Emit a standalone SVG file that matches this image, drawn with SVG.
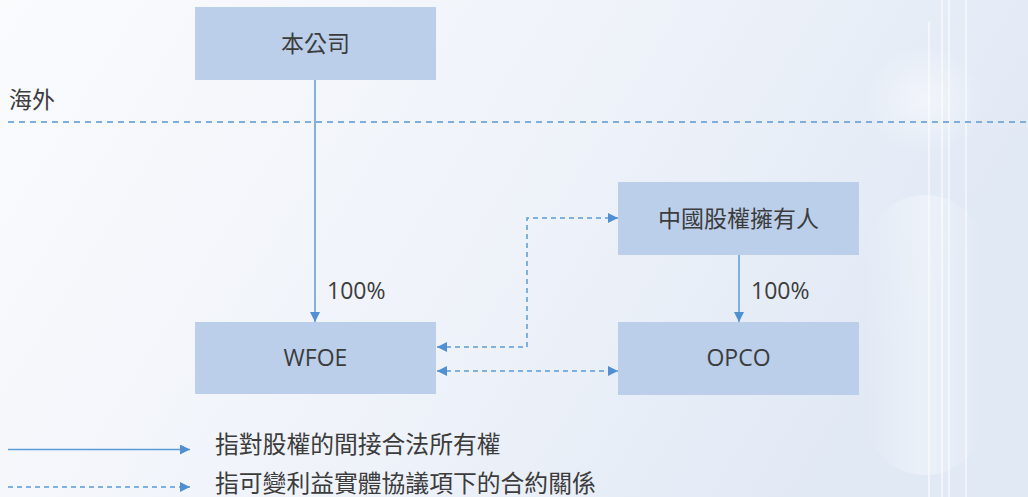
<svg xmlns="http://www.w3.org/2000/svg" width="1028" height="497" viewBox="0 0 1028 497">
<defs>
<linearGradient id="bg" x1="0" y1="0" x2="1" y2="0.3">
<stop offset="0" stop-color="#fafbfd"/>
<stop offset="0.6" stop-color="#eef2f9"/>
<stop offset="1" stop-color="#e1e9f5"/>
</linearGradient>
<radialGradient id="glow" cx="0.5" cy="0.5" r="0.5">
<stop offset="0" stop-color="#ffffff" stop-opacity="0.5"/>
<stop offset="1" stop-color="#ffffff" stop-opacity="0"/>
</radialGradient>
<linearGradient id="pill" x1="0" y1="0" x2="1" y2="0">
<stop offset="0" stop-color="#ffffff" stop-opacity="0"/>
<stop offset="0.5" stop-color="#ffffff" stop-opacity="0.35"/>
<stop offset="1" stop-color="#ffffff" stop-opacity="0"/>
</linearGradient>
<marker id="ah" viewBox="0 0 10 10" refX="10" refY="5" markerWidth="10" markerHeight="10" markerUnits="userSpaceOnUse" orient="auto-start-reverse">
<path d="M0,0 L10,5 L0,10 z" fill="#4f8fd2"/>
</marker>
<style>
.box{fill:#bbcfea}
.t{font-family:"Open Sans","Noto Sans CJK TC",sans-serif;font-size:23px;fill:#3c3c3c}
.lg{font-size:23.8px}
.solid{stroke:#5b9bd5;stroke-width:1.5;fill:none}
.dash{stroke:#5b9bd5;stroke-width:1.5;fill:none;stroke-dasharray:5 4}
.sep{stroke:#7eaedc;stroke-width:2;fill:none;stroke-dasharray:6 5}
.deco{stroke:#ffffff;stroke-width:1.5;opacity:0.7}
</style>
</defs>
<rect width="1028" height="497" fill="url(#bg)"/>
<g id="background-decoration">
<ellipse cx="925" cy="100" rx="60" ry="55" fill="url(#glow)"/>
<rect x="865" y="195" width="120" height="280" rx="60" fill="url(#pill)"/>
<line class="deco" x1="929" y1="22" x2="929" y2="497"/>
<line class="deco" x1="942" y1="0" x2="942" y2="497"/>
<line class="deco" x1="949" y1="0" x2="949" y2="497"/>
<line class="deco" x1="966" y1="0" x2="966" y2="497"/>
</g>
<line class="sep" x1="8" y1="122" x2="1028" y2="122"/>
<text class="t" x="9" y="108">海外</text>
<g id="connectors">
<line class="solid" x1="315" y1="80" x2="315" y2="322" marker-end="url(#ah)"/>
<line class="solid" x1="739" y1="255" x2="739" y2="322" marker-end="url(#ah)"/>
<polyline class="dash" points="437,347 527,347 527,218 618,218" marker-start="url(#ah)" marker-end="url(#ah)"/>
<line class="dash" x1="437" y1="371" x2="618" y2="371" marker-start="url(#ah)" marker-end="url(#ah)"/>
<text class="t" x="327" y="299">100%</text>
<text class="t" x="751" y="299">100%</text>
</g>
<g id="node-company">
<rect class="box" x="195" y="7" width="241" height="73"/>
<text class="t" x="315.5" y="52" text-anchor="middle">本公司</text>
</g>
<g id="node-china-holder">
<rect class="box" x="618" y="182" width="241" height="73"/>
<text class="t" x="738.5" y="227" text-anchor="middle">中國股權擁有人</text>
</g>
<g id="node-wfoe">
<rect class="box" x="195" y="322" width="241" height="72"/>
<text class="t" x="315.5" y="366" text-anchor="middle">WFOE</text>
</g>
<g id="node-opco">
<rect class="box" x="618" y="322" width="241" height="73"/>
<text class="t" x="738.5" y="366" text-anchor="middle">OPCO</text>
</g>
<g id="legend">
<line class="solid" x1="8" y1="449.5" x2="190" y2="449.5" marker-end="url(#ah)"/>
<line class="dash" x1="8" y1="487" x2="190" y2="487" marker-end="url(#ah)"/>
<text class="t lg" x="215" y="453">指對股權的間接合法所有權</text>
<text class="t lg" x="215" y="492">指可變利益實體協議項下的合約關係</text>
</g>
</svg>
